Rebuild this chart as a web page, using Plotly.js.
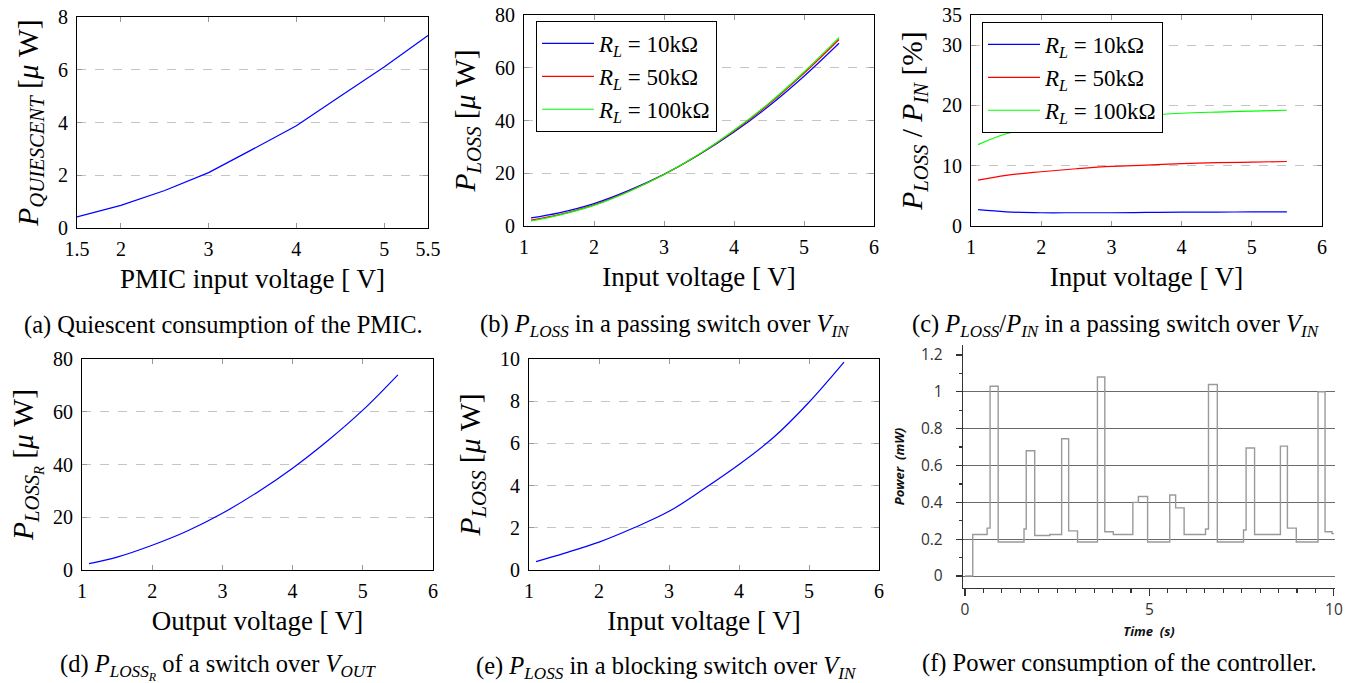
<!DOCTYPE html>
<html>
<head>
<meta charset="utf-8">
<script src="https://cdn.plot.ly/plotly-3.0.1.min.js"></script>
<style>html,body{margin:0;padding:0;background:#fff;}#chart{width:1346px;height:683px;}</style>
</head>
<body>
<div id="chart"></div>
<script>
// ---------- data ----------
const pmicVoltage = [1.5, 2, 2.5, 3, 3.5, 4, 4.5, 5, 5.5];
const quiescentPower = [0.42, 0.86, 1.42, 2.1, 2.98, 3.88, 5.0, 6.1, 7.3];

const inputVoltage = [1.1, 1.5, 2, 2.5, 3, 3.5, 4, 4.5, 5, 5.5];
const passLoss10k  = [3.1, 5.0, 8.5, 13.5, 19.6, 27.0, 35.6, 45.5, 56.8, 69.3];
const passLoss50k  = [2.2, 4.3, 8.0, 13.2, 19.5, 27.1, 36.0, 46.2, 57.9, 70.7];
const passLoss100k = [1.9, 4.1, 7.8, 13.1, 19.5, 27.2, 36.3, 46.6, 58.4, 71.4];

const ratio10k  = [2.7, 2.35, 2.2, 2.2, 2.2, 2.25, 2.3, 2.3, 2.35, 2.35];
const ratio50k  = [7.6, 8.4, 9.0, 9.5, 9.9, 10.1, 10.35, 10.5, 10.6, 10.7];
const ratio100k = [13.5, 15.3, 16.5, 17.2, 17.8, 18.3, 18.7, 18.9, 19.05, 19.2];

const outputVoltage = [1.1, 1.5, 2, 2.5, 3, 3.5, 4, 4.5, 5, 5.5];
const lossR = [2.4, 4.9, 9.4, 14.8, 21.5, 29.5, 38.6, 49.0, 60.6, 74.0];

const blockingLoss = [0.4, 0.79, 1.32, 2.0, 2.78, 3.85, 5.0, 6.3, 7.95, 9.85];

const ctrlTime  = [0, 0.21, 0.6, 0.68, 0.9, 1.6, 1.66, 1.89, 2.3, 2.62, 2.81, 3.05, 3.59, 3.79, 4.02, 4.55, 4.7, 4.95, 5.55, 5.71, 5.94, 6.52, 6.6, 6.84, 7.55, 7.62, 7.85, 8.55, 8.74, 8.98, 9.57, 9.76, 9.95, 10];
const ctrlPower = [0, 0.225, 0.26, 1.03, 0.185, 0.255, 0.68, 0.22, 0.225, 0.745, 0.245, 0.185, 1.08, 0.24, 0.225, 0.40, 0.432, 0.185, 0.44, 0.37, 0.225, 0.255, 1.04, 0.185, 0.25, 0.695, 0.225, 0.705, 0.26, 0.185, 1.0, 0.24, 0.23, 0.23];

const legendNames = ['<i>R</i><sub><i>L</i></sub> = 10kΩ', '<i>R</i><sub><i>L</i></sub> = 50kΩ', '<i>R</i><sub><i>L</i></sub> = 100kΩ'];
const seriesColors = ['#0000ff', '#ff0000', '#00ff00'];

const captions = [
  '(a) Quiescent consumption of the PMIC.',
  '(b) <i>P</i><sub><i>LOSS</i></sub> in a passing switch over <i>V</i><sub><i>IN</i></sub>',
  '(c) <i>P</i><sub><i>LOSS</i></sub>/<i>P</i><sub><i>IN</i></sub> in a passing switch over <i>V</i><sub><i>IN</i></sub>',
  '(d) <i>P</i><sub><i>LOSS</i><sub><i>R</i></sub></sub> of a switch over <i>V</i><sub><i>OUT</i></sub>',
  '(e) <i>P</i><sub><i>LOSS</i></sub> in a blocking switch over <i>V</i><sub><i>IN</i></sub>',
  '(f) Power consumption of the controller.'
];

// ---------- styling helpers ----------
const W = 1346, H = 683;
const SERIF = 'Liberation Serif, Times New Roman, serif';
const SANS = 'Open Sans, Noto Sans, sans-serif';
const px = (a, b) => [a / W, b / W];
const py = (top, bottom) => [1 - bottom / H, 1 - top / H];

function pgfX(domain, range, title, extra) {
  return Object.assign({
    domain: domain, range: range, dtick: 1,
    showline: true, linecolor: '#000', linewidth: 1, mirror: 'ticks',
    ticks: 'inside', ticklen: 5, tickcolor: '#999', tickwidth: 1,
    showgrid: false, zeroline: false, ticklabelstandoff: 3,
    tickfont: {family: SERIF, size: 20, color: '#000'},
    title: {text: title, font: {family: SERIF, size: 27, color: '#000'}, standoff: 10},
    fixedrange: true
  }, extra || {});
}
function pgfY(domain, range, title, extra) {
  return Object.assign({
    domain: domain, range: range,
    showline: true, linecolor: '#000', linewidth: 1, mirror: 'ticks',
    ticks: 'inside', ticklen: 5, tickcolor: '#999', tickwidth: 1,
    showgrid: true, gridcolor: '#c4c4c4', griddash: 'dash', gridwidth: 1, zeroline: false,
    ticklabelstandoff: 4,
    tickfont: {family: SERIF, size: 20, color: '#000'},
    title: {text: title, font: {family: SERIF, size: 29.5, color: '#000'}, standoff: 10},
    fixedrange: true
  }, extra || {});
}

// ---------- traces ----------
const traces = [];
traces.push({x: ctrlTime, y: ctrlPower, xaxis: 'x6', yaxis: 'y6', mode: 'lines',
  line: {color: '#9a9a9a', width: 1.4, shape: 'hv'}, showlegend: false});
// invisible helper trace to keep the grid-only overlay axis active
traces.push({x: [0], y: [0], xaxis: 'x6', yaxis: 'y7', mode: 'markers', marker: {opacity: 0, color: '#fff'}, showlegend: false, hoverinfo: 'skip'});

traces.push({x: pmicVoltage, y: quiescentPower, xaxis: 'x', yaxis: 'y', mode: 'lines',
  line: {color: '#0000ff', width: 1.2}, showlegend: false});

const ratioSeries = [ratio10k, ratio50k, ratio100k];
ratioSeries.forEach((s, i) => traces.push({x: inputVoltage, y: s, xaxis: 'x3', yaxis: 'y3', mode: 'lines',
  name: legendNames[i], line: {color: seriesColors[i], width: 1.2, shape: 'spline'}, legend: 'legend'}));

const passSeries = [passLoss10k, passLoss50k, passLoss100k];
passSeries.forEach((s, i) => traces.push({x: inputVoltage, y: s, xaxis: 'x2', yaxis: 'y2', mode: 'lines',
  name: legendNames[i], line: {color: seriesColors[i], width: 1.2, shape: 'spline'}, legend: 'legend2'}));

traces.push({x: outputVoltage, y: lossR, xaxis: 'x4', yaxis: 'y4', mode: 'lines',
  line: {color: '#0000ff', width: 1.2, shape: 'spline'}, showlegend: false});
traces.push({x: inputVoltage, y: blockingLoss, xaxis: 'x5', yaxis: 'y5', mode: 'lines',
  line: {color: '#0000ff', width: 1.2, shape: 'spline'}, showlegend: false});

// ---------- layout ----------
function legendAt(x, y) {
  return {
    x: x, y: y, xanchor: 'left', yanchor: 'top', bgcolor: '#fff', bordercolor: '#000', borderwidth: 1,
    font: {family: SERIF, size: 23, color: '#000'}, itemwidth: 52, tracegroupgap: 0
  };
}

const layout = {
  width: W, height: H, margin: {l: 0, r: 0, t: 0, b: 0},
  paper_bgcolor: '#fff', plot_bgcolor: '#fff', showlegend: true,
  legend2: legendAt(536 / W, 1 - 21 / H),
  legend: legendAt(982 / W, 1 - 22 / H),

  xaxis: pgfX(px(77, 428), [1.5, 5.5], 'PMIC input voltage [ V]', {tickvals: [1.5, 2, 3, 4, 5, 5.5], anchor: 'y'}),
  yaxis: pgfY(py(17, 228), [0, 8], '<i>P</i><sub><i>QUIESCENT</i></sub> [<i>μ</i> W]', {dtick: 2, anchor: 'x'}),

  xaxis2: pgfX(px(524, 874), [1, 6], 'Input voltage [ V]', {anchor: 'y2'}),
  yaxis2: pgfY(py(15, 226), [0, 80], '<i>P</i><sub><i>LOSS</i></sub> [<i>μ</i> W]', {dtick: 20, anchor: 'x2'}),

  xaxis3: pgfX(px(971, 1322), [1, 6], 'Input voltage [ V]', {anchor: 'y3'}),
  yaxis3: pgfY(py(15, 226), [0, 35], '<i>P</i><sub><i>LOSS</i></sub> / <i>P</i><sub><i>IN</i></sub> [%]', {tickvals: [0, 10, 20, 30, 35], anchor: 'x3'}),

  xaxis4: pgfX(px(82, 433), [1, 6], 'Output voltage [ V]', {anchor: 'y4'}),
  yaxis4: pgfY(py(359, 570), [0, 80], '<i>P</i><sub><i>LOSS</i><sub><i>R</i></sub></sub> [<i>μ</i> W]', {dtick: 20, anchor: 'x4'}),

  xaxis5: pgfX(px(529, 879), [1, 6], 'Input voltage [ V]', {anchor: 'y5'}),
  yaxis5: pgfY(py(359, 570), [0, 10], '<i>P</i><sub><i>LOSS</i></sub> [<i>μ</i> W]', {dtick: 2, anchor: 'x5'}),

  xaxis6: {
    domain: px(963, 1335), range: [-0.054, 10.03], anchor: 'y6',
    tickvals: [0, 5, 10], ticks: 'outside', ticklen: 7, tickcolor: '#333', tickwidth: 1.2,
    minor: {dtick: 0.5, tick0: 0, ticklen: 4, tickcolor: '#333', ticks: 'outside', showgrid: false},
    showline: true, linecolor: '#333', linewidth: 1.2, mirror: false,
    showgrid: false, zeroline: false,
    tickfont: {family: SANS, size: 15.5, color: '#333'},
    title: {text: '<b><i>Time  (s)</i></b>', font: {family: SANS, size: 13, color: '#111'}, standoff: 8},
    fixedrange: true
  },
  yaxis6: {
    domain: py(345, 588), range: [-0.065, 1.254], anchor: 'x6',
    tickvals: [0, 0.2, 0.4, 0.6, 0.8, 1.0, 1.2], ticks: 'outside', ticklen: 6, tickcolor: '#333', tickwidth: 1.2,
    minor: {dtick: 0.1, tick0: 0, ticklen: 3, tickcolor: '#333', ticks: 'outside', showgrid: false},
    showline: true, linecolor: '#333', linewidth: 1.2, mirror: false,
    showgrid: false, zeroline: false, ticklabelstandoff: 10,
    tickfont: {family: SANS, size: 15.5, color: '#333'},
    title: {text: '<b><i>Power  (mW)</i></b>', font: {family: SANS, size: 13, color: '#111'}, standoff: 13},
    fixedrange: true
  },
  yaxis7: {
    overlaying: 'y6', anchor: 'x6', range: [-0.065, 1.254],
    tickvals: [0, 0.2, 0.4, 0.6, 0.8, 1.0], showticklabels: false, ticks: '',
    showgrid: true, gridcolor: '#6a6a6a', gridwidth: 1, showline: false, zeroline: false,
    fixedrange: true
  },

  annotations: []
};

const capPos = [[223, 325], [665, 325], [1116, 325], [218, 667], [666, 667], [1119, 663]];
captions.forEach((t, i) => layout.annotations.push({
  text: t, xref: 'paper', yref: 'paper', x: capPos[i][0] / W, y: 1 - capPos[i][1] / H,
  xanchor: 'center', yanchor: 'middle', showarrow: false,
  font: {family: SERIF, size: 24.5, color: '#000'}
}));

Plotly.newPlot('chart', traces, layout, {displayModeBar: false, staticPlot: true});
</script>
</body>
</html>
